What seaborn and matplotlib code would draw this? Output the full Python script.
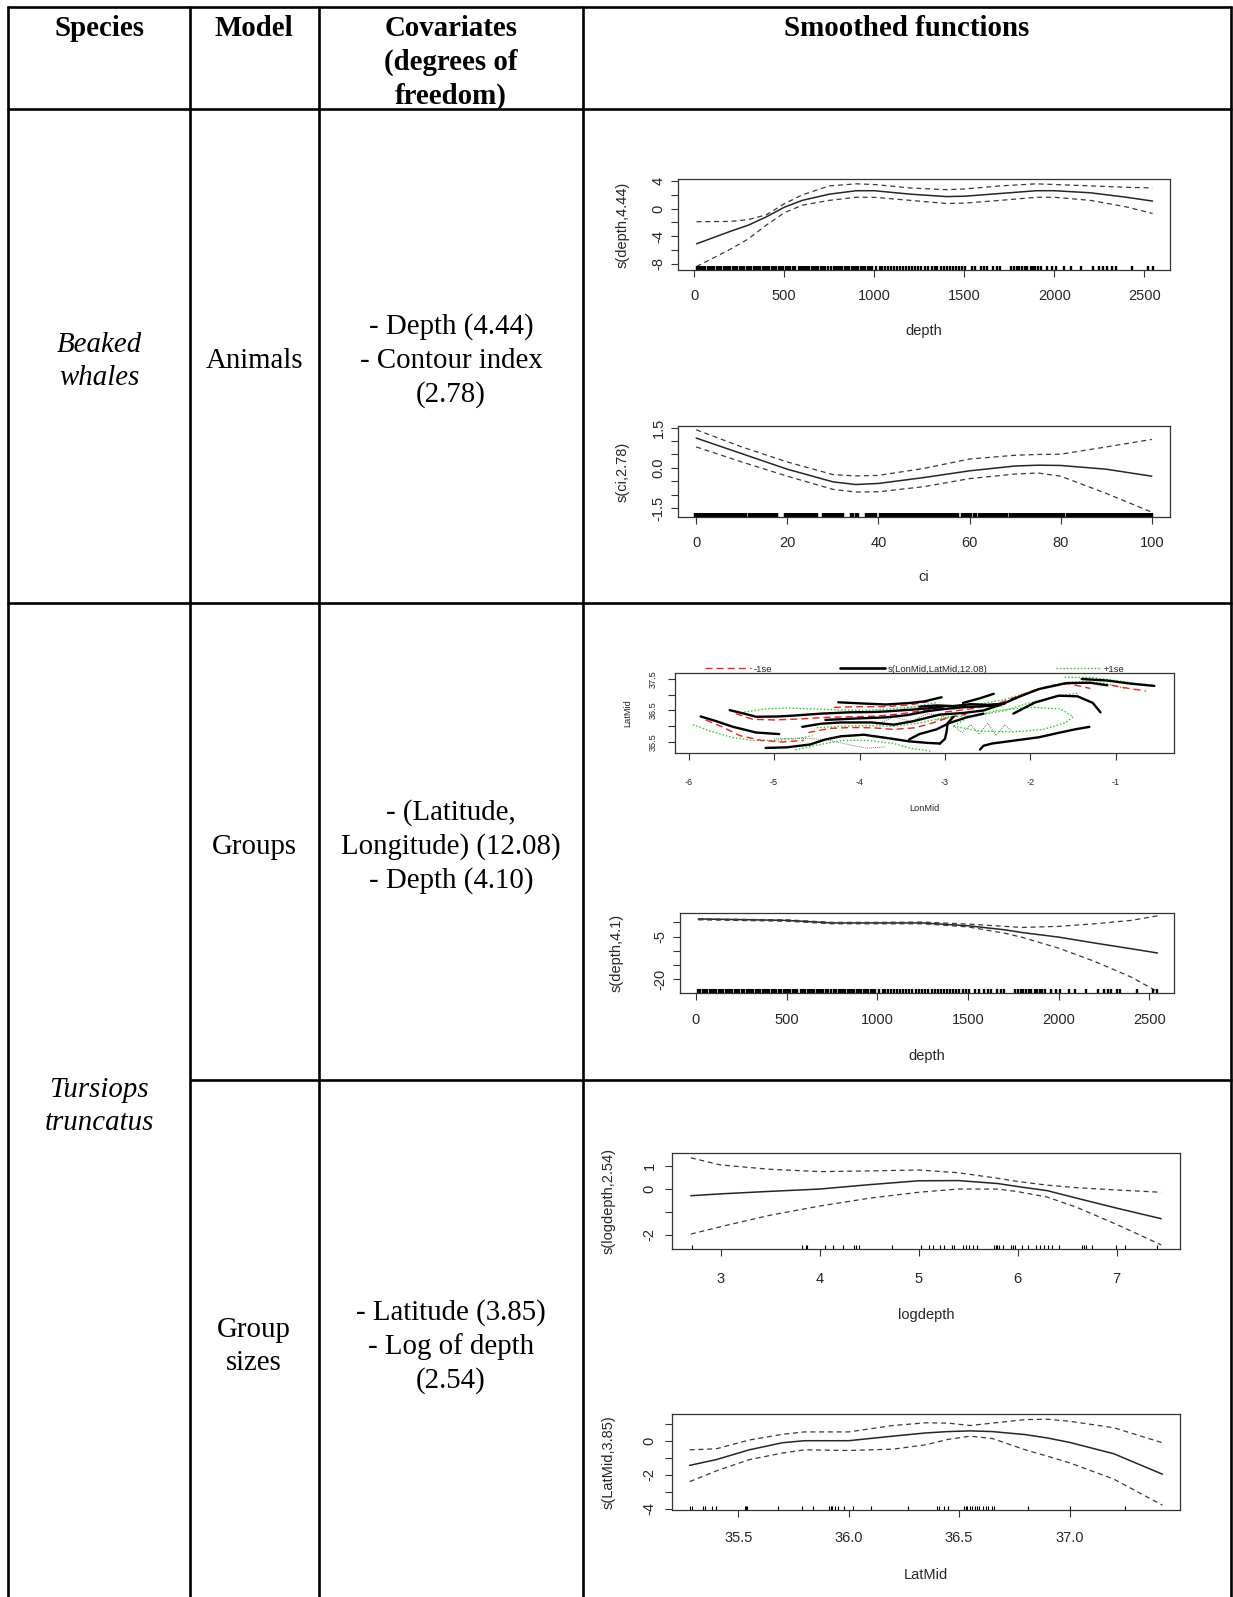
import pandas as pd
import matplotlib
matplotlib.use("Agg")
import matplotlib.pyplot as plt
from matplotlib.lines import Line2D
import seaborn as sns

W, H = 1233, 1597

# ---------------- table content ----------------
header_labels = ["Species", "Model", "Covariates\n(degrees of\nfreedom)", "Smoothed functions"]
species_rows = [["Beaked", "whales"], ["Tursiops", "truncatus"]]
model_rows = [["Animals"], ["Groups"], ["Group", "sizes"]]
covariate_rows = [["- Depth (4.44)", "- Contour index", "(2.78)"],
                  ["- (Latitude,", "Longitude) (12.08)", "- Depth (4.10)"],
                  ["- Latitude (3.85)", "- Log of depth", "(2.54)"]]

# ---------------- smooth: s(depth,4.44) ----------------
d1_x = [13, 200, 300, 400, 500, 600, 750, 900, 1000, 1200, 1400, 1500, 1700, 1900, 2000, 2200, 2400, 2545]
d1_fit = [-5.1, -3.3, -2.4, -1.2, 0.2, 1.2, 2.1, 2.6, 2.6, 2.1, 1.75, 1.8, 2.2, 2.6, 2.6, 2.3, 1.65, 1.1]
d1_up = [-1.9, -1.85, -1.6, -0.9, 0.7, 2.0, 3.3, 3.6, 3.5, 3.0, 2.75, 2.85, 3.3, 3.6, 3.5, 3.3, 3.1, 3.0]
d1_lo = [-8.4, -5.9, -4.4, -2.4, -0.6, 0.5, 1.2, 1.65, 1.65, 1.2, 0.75, 0.8, 1.2, 1.65, 1.65, 1.2, 0.25, -0.7]

depth_rug = [13, 25, 38, 50, 61, 75, 88, 99, 112, 126, 138, 150, 163, 177, 190, 201, 214, 228, 240,
             252, 265, 279, 291, 303, 316, 330, 342, 355, 368, 380, 393, 405, 418, 431, 444, 456, 470,
             483, 495, 508, 521, 534, 546, 559, 580, 592, 604, 616, 628, 640, 652, 665, 678, 690, 703,
             716, 729, 742, 762, 774, 786, 798, 810, 823, 836, 848, 861, 874, 887, 900, 912, 925, 938,
             951, 964, 977, 990, 1012, 1030, 1045, 1060, 1078, 1092, 1110, 1125, 1140, 1158, 1175,
             1190, 1212, 1228, 1245, 1262, 1280, 1300, 1318, 1335, 1350, 1368, 1385, 1402, 1420, 1436,
             1452, 1470, 1488, 1505, 1540, 1560, 1590, 1610, 1625, 1660, 1680, 1700, 1760, 1775, 1790,
             1805, 1820, 1835, 1850, 1868, 1880, 1895, 1910, 1925, 1960, 1985, 2010, 2055, 2090, 2150,
             2215, 2250, 2270, 2290, 2320, 2340, 2430, 2520, 2545]

# ---------------- smooth: s(ci,2.78) ----------------
ci_x = [0, 10, 20, 30, 35, 40, 50, 60, 70, 75, 80, 90, 100]
ci_fit = [1.11, 0.53, -0.05, -0.52, -0.62, -0.58, -0.36, -0.11, 0.07, 0.10, 0.09, -0.05, -0.31]
ci_up = [1.42, 0.78, 0.22, -0.25, -0.30, -0.28, -0.02, 0.33, 0.47, 0.50, 0.51, 0.78, 1.06]
ci_lo = [0.78, 0.22, -0.31, -0.80, -0.90, -0.89, -0.70, -0.40, -0.23, -0.19, -0.31, -0.95, -1.65]

ci_rug = [0, 0.8, 1.6, 2.5, 3.3, 4.1, 5, 5.8, 6.6, 7.5, 8.3, 9.1, 10, 10.8, 11.7, 12.5, 13.3, 14.2,
          15, 15.9, 16.7, 17.5, 19.6, 20.4, 21.3, 22.1, 22.9, 23.8, 24.6, 25.4, 26.3, 28.0, 28.8,
          29.6, 30.5, 31.3, 32.1, 34.2, 35.4, 37.5, 38.3, 39.2, 40.6, 41.4, 42.3, 43.1, 44, 44.8,
          45.6, 46.5, 47.3, 48.1, 49, 49.8, 50.6, 51.5, 52.3, 53.1, 54, 54.8, 55.6, 56.5, 57.3,
          58.6, 59.4, 60.2, 61.1, 62.3, 63.1, 64, 64.8, 65.6, 66.5, 67.3, 68.1, 69, 69.8, 70.6,
          71.5, 72.3, 73.1, 74, 74.8, 75.6, 76.5, 77.3, 78.1, 79, 79.8, 80.6, 81.5, 82.3, 83.1,
          84, 84.8, 85.6, 86.5, 87.3, 88.1, 89, 89.8, 90.6, 91.5, 92.3, 93.1, 94, 94.8, 95.6,
          96.5, 97.3, 98.1, 99, 99.8]

# ---------------- smooth: s(LonMid,LatMid,12.08) contours ----------------
fit_contours = [
    ([-5.86, -5.70, -5.48, -5.21, -4.94], [36.31, 36.18, 35.98, 35.80, 35.75]),
    ([-5.52, -5.35, -5.21, -4.95, -4.76, -4.45, -4.13, -3.85, -3.69, -3.37, -3.15, -3.01],
     [36.51, 36.40, 36.30, 36.31, 36.34, 36.40, 36.44, 36.45, 36.47, 36.53, 36.58, 36.63]),
    ([-5.10, -4.85, -4.58, -4.40, -4.22, -3.95, -3.69, -3.42, -3.20, -3.06],
     [35.31, 35.33, 35.42, 35.58, 35.68, 35.73, 35.63, 35.52, 35.47, 35.45]),
    ([-3.06, -3.00, -2.98, -2.97, -2.90], [35.45, 35.60, 35.85, 36.10, 36.30]),
    ([-4.67, -4.45, -4.22, -3.86, -3.60, -3.37, -3.06, -2.79, -2.55, -2.34, -2.12, -1.90, -1.58, -1.30, -1.10],
     [35.98, 36.08, 36.12, 36.12, 36.05, 36.16, 36.37, 36.42, 36.50, 36.69, 36.95, 37.18, 37.37, 37.38, 37.30]),
    ([-4.25, -3.95, -3.69, -3.40, -3.24, -3.04], [36.76, 36.72, 36.69, 36.74, 36.79, 36.92]),
    ([-2.79, -2.60, -2.43], [36.74, 36.88, 37.03]),
    ([-2.59, -2.55, -2.45, -2.12, -1.90, -1.67, -1.48, -1.31], [35.26, 35.38, 35.45, 35.57, 35.65, 35.79, 35.90, 35.98]),
    ([-2.20, -1.95, -1.67, -1.45, -1.27, -1.18], [36.40, 36.75, 36.97, 36.95, 36.74, 36.44]),
    ([-1.40, -1.10, -0.82, -0.55], [37.50, 37.45, 37.35, 37.28]),
    ([-4.40, -4.00, -3.70, -3.45, -3.20, -3.00, -2.80, -2.60, -2.40], [36.20, 36.25, 36.28, 36.35, 36.48, 36.55, 36.60, 36.63, 36.66]),
    ([-3.42, -3.30, -3.10, -2.95, -2.75, -2.55], [35.58, 35.75, 35.90, 36.10, 36.28, 36.40]),
    ([-3.30, -3.10, -2.90, -2.70, -2.50, -2.30], [36.62, 36.66, 36.64, 36.70, 36.68, 36.72]),
]
minus_se_contours = [
    ([-5.80, -5.60, -5.40, -5.15, -4.90, -4.65], [36.20, 35.97, 35.70, 35.55, 35.50, 35.55]),
    ([-5.45, -5.25, -5.00, -4.70, -4.40, -4.10, -3.80, -3.50, -3.20, -3.00],
     [36.40, 36.22, 36.20, 36.23, 36.28, 36.30, 36.32, 36.40, 36.52, 36.60]),
    ([-4.60, -4.35, -4.10, -3.85, -3.60, -3.35, -3.15, -2.95, -2.75],
     [35.80, 35.93, 35.96, 35.95, 35.90, 35.95, 36.10, 36.28, 36.38]),
    ([-3.00, -2.70, -2.40, -2.15, -1.95, -1.75, -1.55, -1.30], [36.45, 36.55, 36.70, 36.95, 37.15, 37.30, 37.35, 37.20]),
    ([-4.30, -4.00, -3.70, -3.40, -3.20], [36.60, 36.62, 36.62, 36.68, 36.78]),
    ([-1.05, -0.85, -0.65], [37.30, 37.20, 37.12]),
]
plus_se_contours = [
    ([-5.95, -5.75, -5.50, -5.25, -5.00, -4.75, -4.55], [36.05, 35.85, 35.65, 35.55, 35.55, 35.60, 35.70]),
    ([-5.35, -5.10, -4.85, -4.55, -4.25, -3.95, -3.65, -3.35, -3.10],
     [36.45, 36.55, 36.58, 36.55, 36.52, 36.50, 36.55, 36.62, 36.75]),
    ([-4.75, -4.50, -4.20, -3.90, -3.60, -3.40, -3.15], [35.25, 35.40, 35.55, 35.55, 35.45, 35.30, 35.20]),
    ([-4.50, -4.20, -3.90, -3.60, -3.30, -3.05, -2.85], [35.95, 36.00, 36.02, 36.00, 36.10, 36.25, 36.35]),
    ([-2.90, -2.60, -2.30, -2.05, -1.85, -1.60, -1.35, -1.10, -0.90],
     [36.55, 36.70, 36.85, 37.05, 37.22, 37.38, 37.42, 37.35, 37.20]),
    ([-2.90, -2.60, -2.20, -1.85, -1.60, -1.50, -1.65, -2.00, -2.40, -2.75, -2.90],
     [36.00, 35.85, 35.82, 35.90, 36.10, 36.30, 36.55, 36.60, 36.50, 36.25, 36.00]),
    ([-3.10, -2.90, -2.60, -2.30, -2.00, -1.70, -1.45], [36.20, 36.30, 36.35, 36.50, 36.75, 36.95, 37.05]),
    ([-1.60, -1.30, -1.00, -0.75, -0.55], [37.55, 37.55, 37.45, 37.35, 37.30]),
]
track_lines = [
    ([-3.50, -3.35, -3.20, -3.05, -2.90, -2.75, -2.60, -2.45, -2.30], [36.55, 36.62, 36.50, 36.68, 36.55, 36.65, 36.58, 36.68, 36.60]),
    ([-2.90, -2.80, -2.70, -2.60, -2.50, -2.40, -2.30, -2.20], [36.00, 35.80, 36.05, 35.75, 36.10, 35.70, 36.05, 35.80]),
    ([-5.00, -4.70, -4.40, -4.10, -3.90, -3.70], [35.60, 35.62, 35.58, 35.40, 35.30, 35.35]),
    ([-3.80, -3.60, -3.40, -3.20, -3.00], [36.05, 36.30, 36.15, 36.40, 36.30]),
]
legend_labels = ["-1se", "s(LonMid,LatMid,12.08)", "+1se"]

# ---------------- smooth: s(depth,4.1) ----------------
d2_x = [13, 500, 750, 1000, 1250, 1500, 1700, 1800, 2000, 2200, 2400, 2545]
d2_fit = [1.2, 0.7, -0.2, -0.2, -0.2, -1.2, -2.6, -3.6, -5.2, -7.3, -9.3, -10.8]
d2_up = [1.2, 0.9, 0.0, 0.0, 0.1, -0.6, -1.4, -1.8, -1.4, -0.5, 0.7, 2.3]
d2_lo = [0.9, 0.4, -0.5, -0.5, -0.5, -1.6, -3.8, -5.3, -9.1, -13.8, -19.3, -24.4]

# ---------------- smooth: s(logdepth,2.54) ----------------
ld_x = [2.7, 3.0, 3.5, 4.0, 4.5, 5.0, 5.4, 5.8, 6.0, 6.3, 6.6, 7.0, 7.45]
ld_fit = [-0.29, -0.21, -0.10, 0.0, 0.19, 0.36, 0.37, 0.24, 0.11, -0.07, -0.40, -0.83, -1.29]
ld_up = [1.36, 1.05, 0.86, 0.76, 0.79, 0.83, 0.71, 0.47, 0.33, 0.17, 0.06, -0.04, -0.14]
ld_lo = [-1.96, -1.64, -1.14, -0.74, -0.40, -0.14, 0.0, 0.0, -0.11, -0.35, -0.80, -1.54, -2.43]
ld_rug = [2.71, 3.82, 3.86, 3.87, 4.06, 4.14, 4.24, 4.35, 4.37, 4.40, 4.73, 5.02, 5.11, 5.15, 5.22,
          5.26, 5.34, 5.36, 5.45, 5.48, 5.51, 5.55, 5.59, 5.76, 5.78, 5.79, 5.81, 5.85, 5.93, 5.95,
          5.97, 6.04, 6.10, 6.19, 6.23, 6.27, 6.31, 6.35, 6.42, 6.65, 6.67, 6.69, 6.75, 6.99, 7.08, 7.41]

# ---------------- smooth: s(LatMid,3.85) ----------------
lat_x = [35.28, 35.4, 35.55, 35.7, 35.8, 36.0, 36.2, 36.35, 36.45, 36.55, 36.65, 36.8, 36.9, 37.0, 37.2, 37.42]
lat_fit = [-1.44, -1.1, -0.52, -0.10, 0.02, 0.02, 0.29, 0.48, 0.56, 0.60, 0.56, 0.38, 0.18, -0.08, -0.75, -1.96]
lat_up = [-0.52, -0.46, 0.06, 0.40, 0.54, 0.54, 0.92, 1.08, 1.06, 0.92, 1.06, 1.27, 1.29, 1.17, 0.79, -0.10]
lat_lo = [-2.40, -1.77, -1.10, -0.71, -0.52, -0.56, -0.48, -0.22, 0.10, 0.29, 0.15, -0.52, -0.90, -1.29, -2.25, -3.79]
lat_rug = [35.28, 35.29, 35.34, 35.35, 35.38, 35.40, 35.53, 35.535, 35.54, 35.68, 35.79, 35.84, 35.91,
           35.92, 35.925, 35.94, 35.95, 35.98, 36.02, 36.10, 36.27, 36.40, 36.41, 36.43, 36.45, 36.52,
           36.53, 36.535, 36.55, 36.56, 36.57, 36.58, 36.59, 36.61, 36.62, 36.63, 36.65, 36.66, 36.81,
           37.0, 37.25]

INK = "#262626"
SERIF = ["Liberation Serif", "DejaVu Serif"]
SANS = ["Liberation Sans", "DejaVu Sans"]


def px_rect(x0, y0, x1, y1):
    return [x0 / W, 1 - y1 / H, (x1 - x0) / W, (y1 - y0) / H]


def r_axes(fig, box, xlim, ylim, xticks, yticks, ylabels, xlabel, ylabel,
           fs, ytl_off, xtl_off, ylab_x, xlab_y):
    x0, y0, x1, y1 = box
    ax = fig.add_axes(px_rect(*box))
    ax.set_xlim(*xlim)
    ax.set_ylim(*ylim)
    for s in ax.spines.values():
        s.set_color("#333333")
        s.set_linewidth(0.9)
        s.set_visible(True)
    ax.set_facecolor("none")
    tick_len = 7
    half = fs * 1.15 * 100 / 72 / 2
    xpad = (xtl_off - tick_len - half) * 0.72
    ypad = (ytl_off - tick_len - half) * 0.72
    ax.tick_params(axis="both", direction="out", length=tick_len * 0.72, width=0.8,
                   color="#333333", labelsize=fs, labelcolor=INK)
    ax.tick_params(axis="x", pad=xpad)
    ax.tick_params(axis="y", pad=ypad)
    ax.set_xticks(xticks)
    ax.set_xticklabels([f"{t:g}" for t in xticks])
    ax.set_yticks(yticks, ylabels)
    for lbl in ax.get_yticklabels():
        lbl.set_rotation(90)
        lbl.set_va("center")
    for lbl in ax.get_xticklabels() + ax.get_yticklabels():
        lbl.set_family(SANS)
    ax.set_xlabel(xlabel, fontsize=fs, color=INK, family=SANS, va="center")
    ax.set_ylabel(ylabel, fontsize=fs, color=INK, family=SANS, va="center")
    ax.xaxis.set_label_coords(0.5, (y1 - xlab_y) / (y1 - y0))
    ax.yaxis.set_label_coords((ylab_x - x0) / (x1 - x0), 0.5)
    return ax


def smooth_panel(ax, x, fit, up, lo, rug, rug_lw=0.8):
    df = pd.DataFrame({"x": x, "fit": fit, "up": up, "lo": lo})
    sns.lineplot(data=df, x="x", y="fit", color=INK, lw=1.1, estimator=None, ax=ax)
    for col in ["up", "lo"]:
        sns.lineplot(data=df, x="x", y=col, color="#3a3a3a", lw=0.9, linestyle=(0, (4, 3)),
                     estimator=None, ax=ax)
    sns.rugplot(x=rug, height=0.045, color="black", linewidth=rug_lw, expand_margins=False, ax=ax)


def contour_frame(lines):
    parts = [pd.DataFrame({"lon": lon, "lat": lat, "seg": k}) for k, (lon, lat) in enumerate(lines)]
    return pd.concat(parts, ignore_index=True)


def main():
    sns.set_style("ticks")
    plt.rcParams["font.family"] = SANS
    fig = plt.figure(figsize=(W / 100, H / 100), dpi=100)

    # ---- table frame and text ----
    bg = fig.add_axes([0, 0, 1, 1])
    bg.set_xlim(0, W)
    bg.set_ylim(H, 0)
    bg.axis("off")
    lw = 1.9
    for xv in [8, 190, 319, 583, 1231]:
        bg.vlines(xv, 6, H, color="black", lw=lw)
    for yv in [7, 109, 603]:
        bg.hlines(yv, 7, 1232, color="black", lw=lw)
    bg.hlines(1080, 190, 1232, color="black", lw=lw)

    col_x = [99, 254, 451, 907]
    pitch = 33.7
    tfs = 20.8
    dy = 3.5

    def put(lines, x, yc, **kw):
        n = len(lines)
        for i, s in enumerate(lines):
            bg.text(x, yc + dy + (i - (n - 1) / 2) * pitch, s, ha="center", va="center",
                    fontsize=tfs, family=SERIF, color="black", **kw)

    for lab, x in zip(header_labels, col_x):
        lines = lab.split("\n")
        put(lines, x, 25 + (len(lines) - 1) * pitch / 2, weight="bold")
    for lines, yc in zip(species_rows, [358, 1103]):
        put(lines, col_x[0], yc, style="italic")
    for lines, yc in zip(model_rows, [357, 843, 1343]):
        put(lines, col_x[1], yc)
    for lines, yc in zip(covariate_rows, [357, 843, 1343]):
        put(lines, col_x[2], yc)

    fs = 10.5

    # ---- s(depth,4.44) ----
    ax1 = r_axes(fig, (678, 179, 1170, 270), (-90, 2642), (-8.9, 4.3),
                 [0, 500, 1000, 1500, 2000, 2500], [-8, -6, -4, -2, 0, 2, 4],
                 ["-8", "", "-4", "", "0", "", "4"], "depth", "s(depth,4.44)",
                 fs, 21, 27, 623, 331)
    smooth_panel(ax1, d1_x, d1_fit, d1_up, d1_lo, depth_rug, rug_lw=1.7)

    # ---- s(ci,2.78) ----
    ax2 = r_axes(fig, (678, 426, 1170, 517), (-4, 104), (-1.83, 1.56),
                 [0, 20, 40, 60, 80, 100], [-1.5, -1.0, -0.5, 0.0, 0.5, 1.0, 1.5],
                 ["-1.5", "", "", "0.0", "", "", "1.5"], "ci", "s(ci,2.78)",
                 fs, 21, 27, 623, 577)
    smooth_panel(ax2, ci_x, ci_fit, ci_up, ci_lo, ci_rug, rug_lw=3.2)

    # ---- s(LonMid,LatMid,12.08) ----
    ax3 = r_axes(fig, (675, 673, 1174, 753), (-6.16, -0.32), (35.15, 37.69),
                 [-6, -5, -4, -3, -2, -1], [35.5, 36.0, 36.5, 37.0, 37.5],
                 ["35.5", "", "36.5", "", "37.5"], "LonMid", "LatMid",
                 6.6, 23, 30, 628, 808)
    sns.lineplot(data=contour_frame(track_lines), x="lon", y="lat", units="seg", estimator=None,
                 sort=False, color="#444444", lw=0.6, linestyle=(0, (1, 1.5)), ax=ax3)
    sns.lineplot(data=contour_frame(plus_se_contours), x="lon", y="lat", units="seg", estimator=None,
                 sort=False, color="#22cc22", lw=1.0, linestyle=(0, (1, 1.5)), ax=ax3)
    sns.lineplot(data=contour_frame(minus_se_contours), x="lon", y="lat", units="seg", estimator=None,
                 sort=False, color="#ee2222", lw=1.0, linestyle=(0, (5, 3)), ax=ax3)
    sns.lineplot(data=contour_frame(fit_contours), x="lon", y="lat", units="seg", estimator=None,
                 sort=False, color="black", lw=1.7, ax=ax3)
    ax3.set_xlim(-6.16, -0.32)
    ax3.set_ylim(35.15, 37.69)
    handles = [Line2D([], [], color="#ee2222", lw=1.0, linestyle=(0, (5, 3))),
               Line2D([], [], color="black", lw=1.9),
               Line2D([], [], color="#22cc22", lw=1.0, linestyle=(0, (1, 1.5)))]
    ax3.legend(handles, legend_labels, loc="center", ncol=3, frameon=False,
               bbox_to_anchor=(915 / W, 1 - 669 / H), bbox_transform=fig.transFigure,
               fontsize=6.8, handlelength=4.8, handletextpad=0.3, columnspacing=7.2,
               borderpad=0, borderaxespad=0)

    # ---- s(depth,4.1) ----
    ax4 = r_axes(fig, (680, 913, 1174, 993), (-88, 2636), (-24.9, 3.3),
                 [0, 500, 1000, 1500, 2000, 2500], [-20, -15, -10, -5, 0],
                 ["-20", "", "", "-5", ""], "depth", "s(depth,4.1)",
                 fs, 21, 28, 617, 1056)
    smooth_panel(ax4, d2_x, d2_fit, d2_up, d2_lo, depth_rug, rug_lw=1.7)

    # ---- s(logdepth,2.54) ----
    ax5 = r_axes(fig, (672, 1153, 1180, 1249), (2.51, 7.64), (-2.61, 1.57),
                 [3, 4, 5, 6, 7], [-2, -1, 0, 1],
                 ["-2", "", "0", "1"], "logdepth", "s(logdepth,2.54)",
                 fs, 24, 31, 609, 1315)
    smooth_panel(ax5, ld_x, ld_fit, ld_up, ld_lo, ld_rug)

    # ---- s(LatMid,3.85) ----
    ax6 = r_axes(fig, (672, 1414, 1180, 1510), (35.20, 37.50), (-4.08, 1.6),
                 [35.5, 36.0, 36.5, 37.0], [-4, -3, -2, -1, 0, 1],
                 ["-4", "", "-2", "", "0", ""], "LatMid", "s(LatMid,3.85)",
                 fs, 24, 29, 609, 1575)
    ax6.set_xticklabels(["35.5", "36.0", "36.5", "37.0"])
    smooth_panel(ax6, lat_x, lat_fit, lat_up, lat_lo, lat_rug)

    for ax, xl, yl in [(ax1, (-90, 2642), (-8.9, 4.3)), (ax2, (-4, 104), (-1.83, 1.56)),
                       (ax4, (-88, 2636), (-24.9, 3.3)), (ax5, (2.51, 7.64), (-2.61, 1.57)),
                       (ax6, (35.20, 37.50), (-4.08, 1.6))]:
        ax.set_xlim(*xl)
        ax.set_ylim(*yl)

    fig.savefig("out.png", dpi=100)
    plt.close("all")


if __name__ == "__main__":
    main()
